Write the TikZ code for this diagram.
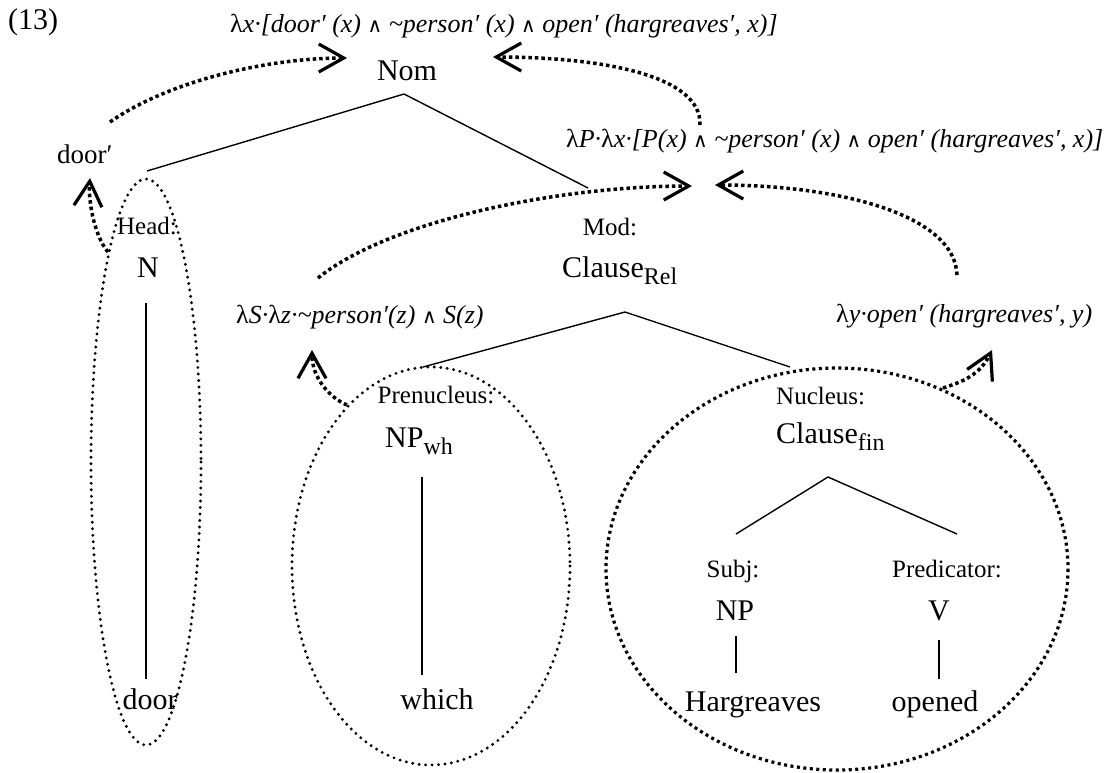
\documentclass[tikz,border=0pt]{standalone}
\usepackage{fontspec}
\setmainfont{Liberation Serif}
\newfontfamily\symfont{DejaVu Sans}
\usetikzlibrary{arrows.meta}
\newcommand\wedgesym{{\upshape\symfont\fontsize{20}{20}\selectfont ∧}}
\newcommand\lam{{\upshape λ}}
\newcommand\lowtext[1]{\raisebox{-7pt}{\fontsize{24}{24}\selectfont #1}}
\tikzset{
  big/.style={font=\fontsize{30}{36}\selectfont, inner sep=0pt, anchor=base},
  lab/.style={font=\fontsize{25}{30}\selectfont, inner sep=0pt, anchor=base},
  sem/.style={font=\fontsize{26}{30}\selectfont\itshape, inner sep=0pt, anchor=base west},
  branch/.style={line width=1.4pt},
  hilite/.style={line width=3.2pt, line cap=round, dash pattern=on 0pt off 6.5pt},
  hilitesq/.style={line width=3.2pt, dash pattern=on 3pt off 3.5pt},
  flow/.style={line width=3.5pt, dash pattern=on 3.5pt off 3pt,
    -{Straight Barb[length=25pt,width=28pt,line width=3.2pt]}},
}
\begin{document}
\begin{tikzpicture}[x=1pt,y=-1pt]
\useasboundingbox (0,0) rectangle (1105,772);

% texts
\node[font=\fontsize{30}{36}\selectfont, inner sep=0pt, anchor=base west] (ex) at (8,29) {(13)};
\node[sem] (semnom) at (230,32) {\lam x·[door′ (x) \wedgesym{} \textasciitilde person′ (x) \wedgesym{} open′ (hargreaves′, x)]};
\node[big] (nom) at (407,80) {Nom};
\node[font=\fontsize{27}{32}\selectfont, inner sep=0pt, anchor=base west] (semdoor) at (57,163) {door′};
\node[sem] (semmod) at (566,147) {\lam P·\lam x·[P(x) \wedgesym{} \textasciitilde person′ (x) \wedgesym{} open′ (hargreaves′, x)]};
\node[lab] (headlab) at (147,234) {Head:};
\node[lab] (modlab) at (610,235) {Mod:};
\node[big] (n) at (148,277) {N};
\node[big, anchor=base west] (crel) at (562,277) {Clause\lowtext{Rel}};
\node[sem] (sems) at (236,323) {\lam S·\lam z·\textasciitilde person′(z) \wedgesym{} S(z)};
\node[sem] (semy) at (836,322) {\lam y·open′ (hargreaves′, y)};
\node[lab] (prelab) at (436,403) {Prenucleus:};
\node[lab, anchor=base west] (nuclab) at (776,404) {Nucleus:};
\node[big, anchor=base west] (npwh) at (385,447) {NP\lowtext{wh}};
\node[big, anchor=base west] (cfin) at (776,443) {Clause\lowtext{fin}};
\node[lab] (subjlab) at (733,577) {Subj:};
\node[lab] (predlab) at (947,577) {Predicator:};
\node[big] (np) at (735,620) {NP};
\node[big] (v) at (939,620) {V};
\node[big] (door) at (150,709) {door};
\node[big] (which) at (437,709) {which};
\node[big] (harg) at (753,711) {Hargreaves};
\node[big] (opened) at (935,711) {opened};

% tree branches
\coordinate (nomA) at (404,94);
\coordinate (nomL) at (147,171);
\coordinate (nomR) at (588,188);
\coordinate (relA) at (625,312);
\coordinate (relL) at (423,367);
\coordinate (relR) at (790,367);
\coordinate (nT) at (146,303);
\coordinate (nB) at (146,679);
\coordinate (whT) at (422,477);
\coordinate (whB) at (422,675);
\coordinate (finA) at (828,477);
\coordinate (finL) at (736,534);
\coordinate (finR) at (957,534);
\coordinate (npT) at (736,636);
\coordinate (npB) at (736,673);
\coordinate (vT) at (939,640);
\coordinate (vB) at (939,679);
\draw[branch] (nomL) -- (nomA) -- (nomR);
\draw[branch] (relL) -- (relA) -- (relR);
\draw[branch] (finL) -- (finA) -- (finR);
\draw[branch] (nT) -- (nB);
\draw[branch] (whT) -- (whB);
\draw[branch] (npT) -- (npB);
\draw[branch] (vT) -- (vB);

% dotted ellipses
\draw[hilite] (146,462) ellipse [x radius=55, y radius=283];
\draw[hilite] (431,566) ellipse [x radius=139, y radius=199];
\draw[hilitesq] (837,569) ellipse [x radius=231, y radius=201];

% flows
\coordinate (hd0) at (108,252);
\coordinate (hd1) at (90,178);
\coordinate (nl0) at (110,122);
\coordinate (nl1) at (347,58);
\coordinate (nr0) at (700,125);
\coordinate (nr1) at (493,57);
\coordinate (ml0) at (318,278);
\coordinate (ml1) at (692,186);
\coordinate (mr0) at (957,275);
\coordinate (mr1) at (715,185);
\coordinate (pr0) at (347,405);
\coordinate (pr1) at (312,350);
\coordinate (nu0) at (943,388);
\coordinate (nu1) at (992,350);
\draw[flow] (hd0) .. controls (96,238) and (88,205) .. (hd1);
\draw[flow] (nl0) .. controls (170,80) and (270,58) .. (nl1);
\draw[flow] (nr0) .. controls (702,75) and (600,57) .. (nr1);
\draw[flow] (ml0) .. controls (390,220) and (560,186) .. (ml1);
\draw[flow] (mr0) .. controls (955,215) and (840,185) .. (mr1);
\draw[flow] (pr0) .. controls (330,398) and (312,378) .. (pr1);
\draw[flow] (nu0) .. controls (962,382) and (980,375) .. (nu1);
\end{tikzpicture}
\end{document}
